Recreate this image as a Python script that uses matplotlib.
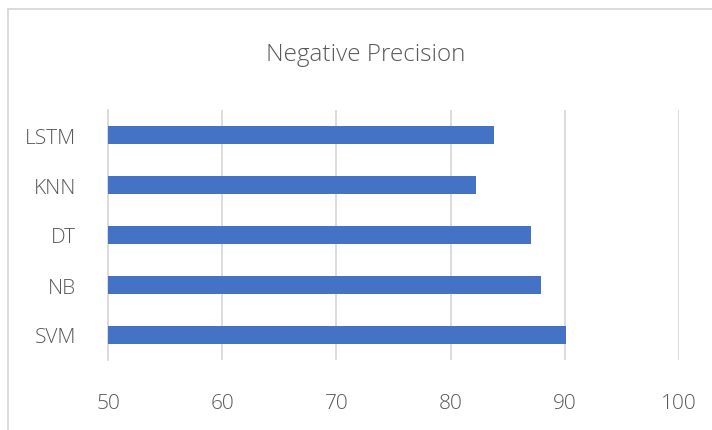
import matplotlib
matplotlib.use("Agg")
import matplotlib.pyplot as plt
from matplotlib.lines import Line2D

# Model names (bottom to top) and their negative-class precision (%)
models = ["SVM", "NB", "DT", "KNN", "LSTM"]
precision = [90.1, 87.95, 87.05, 82.25, 83.8]
x_ticks = [50, 60, 70, 80, 90, 100]

plt.rcParams["font.family"] = ["Open Sans", "DejaVu Sans"]

text_gray = "#595959"
grid_gray = "#d9d9d9"
bar_blue = "#4472C4"

fig = plt.figure(figsize=(7.12, 4.31), dpi=100)
ax = fig.add_axes([108 / 712, 70 / 431, 571 / 712, 250 / 431])

pos = range(len(models))
ax.barh(pos, precision, height=0.355, left=0, color=bar_blue, zorder=3)

ax.set_xlim(50, 100)
ax.set_ylim(-0.5, len(models) - 0.5)
ax.set_xticks(x_ticks)
ax.set_xticklabels([str(t) for t in x_ticks])
ax.set_yticks(list(pos))
ax.set_yticklabels(models)

ax.grid(axis="x", color=grid_gray, linewidth=1.3, zorder=0)
ax.tick_params(axis="both", length=0, labelsize=15, labelcolor=text_gray)
ax.tick_params(axis="x", pad=24)
ax.tick_params(axis="y", pad=23)
for lbl in ax.get_xticklabels() + ax.get_yticklabels():
    lbl.set_fontweight("light")

for side in ["top", "right", "bottom"]:
    ax.spines[side].set_visible(False)
ax.spines["left"].set_color(grid_gray)
ax.spines["left"].set_linewidth(1.3)

fig.text(366 / 712, 1 - 55 / 431, "Negative Precision", ha="center", va="center",
         fontsize=17.5, color=text_gray, fontweight="light")

# chart-area border (top and left edges)
fig.add_artist(Line2D([8 / 712, 8 / 712], [0, 1 - 9.5 / 431], transform=fig.transFigure,
                      color=grid_gray, linewidth=1.3))
fig.add_artist(Line2D([8 / 712, 1], [1 - 9.5 / 431, 1 - 9.5 / 431], transform=fig.transFigure,
                      color=grid_gray, linewidth=1.3))

fig.savefig("out.png", dpi=100, facecolor="white")
